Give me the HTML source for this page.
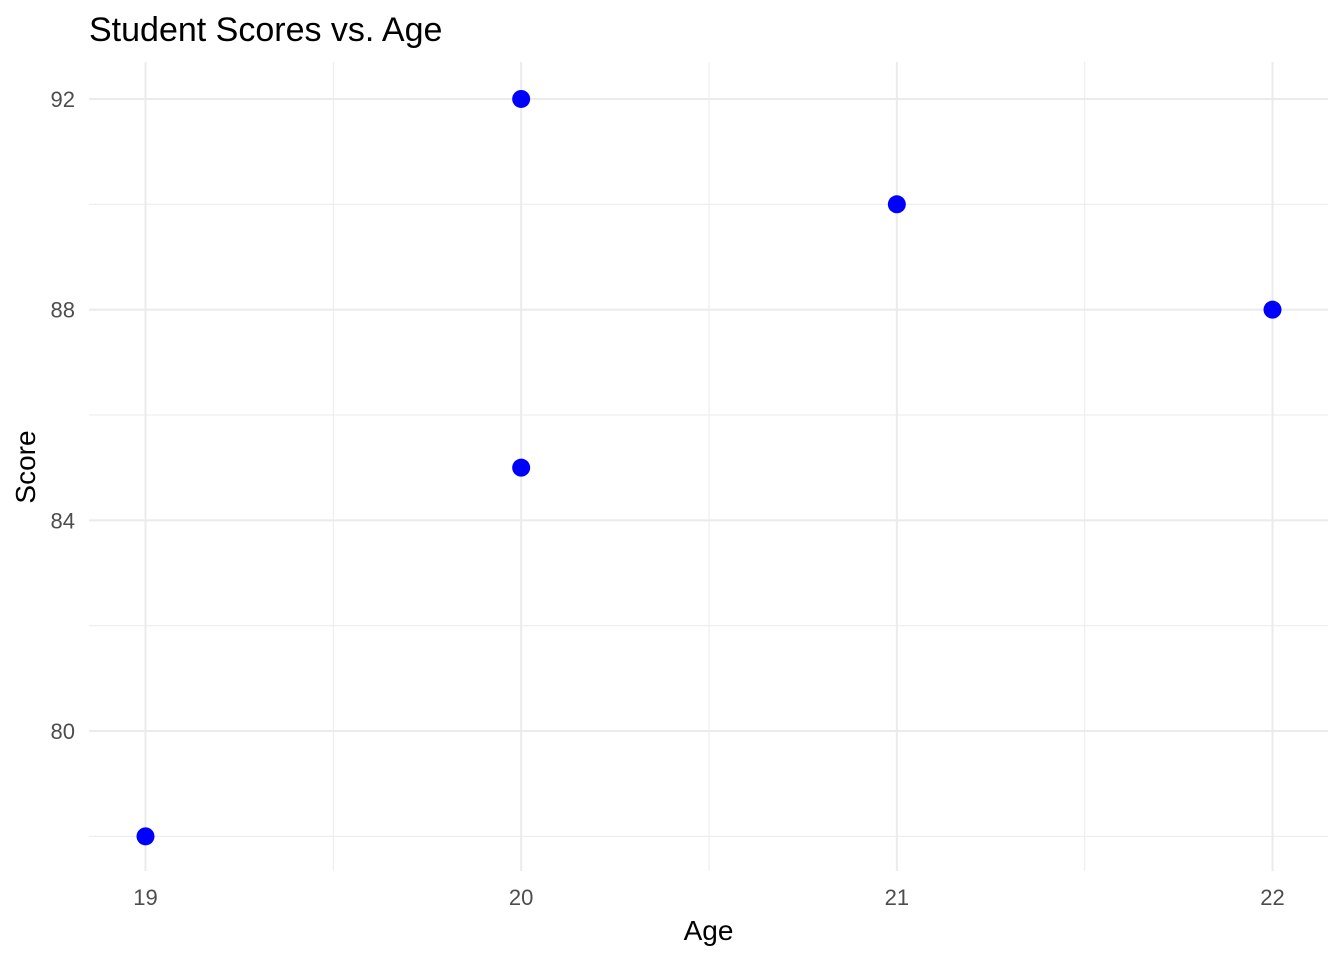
<!DOCTYPE html>
<html><head><meta charset="utf-8"><style>
body{margin:0;background:#fff;}
svg{display:block;font-family:"Liberation Sans",Arial,sans-serif;}
</style></head><body>
<svg id="chart" width="1344" height="960">
<g id="grid"></g><g id="pts"></g><g id="labels"></g>
<text x="89" y="41" font-size="34" fill="#000">Student Scores vs. Age</text>
<text x="708.5" y="940" font-size="28" text-anchor="middle" fill="#000">Age</text>
<text transform="translate(35,467) rotate(-90)" font-size="28" text-anchor="middle" fill="#000">Score</text>
</svg>
<script>
const ages=[19,20,20,21,22];
const scores=[78,92,85,90,88];
const xTicks=[19,20,21,22];
const yTicks=[80,84,88,92];
const xMinor=[19.5,20.5,21.5];
const yMinor=[78,82,86,90];
const L=89,R=1328,T=62,B=871;
const xs=v=>145.5+(v-19)*375.67;
const ys=v=>731-(v-80)*52.67;
const NS="http://www.w3.org/2000/svg";
const grid=document.getElementById('grid'),pts=document.getElementById('pts'),lab=document.getElementById('labels');
function line(x1,y1,x2,y2,w,name){const l=document.createElementNS(NS,'line');
l.setAttribute('x1',x1);l.setAttribute('y1',y1);l.setAttribute('x2',x2);l.setAttribute('y2',y2);
l.setAttribute('stroke','#ebebeb');l.setAttribute('stroke-width',w);


grid.appendChild(l);}
yMinor.forEach(v=>line(L,ys(v),R,ys(v),1,'y-minor-gridline'));
xMinor.forEach(v=>line(xs(v),T,xs(v),B,1,'x-minor-gridline'));
yTicks.forEach(v=>line(L,ys(v),R,ys(v),2,'y-major-gridline'));
xTicks.forEach(v=>line(xs(v),T,xs(v),B,2,'x-major-gridline'));
function txt(x,y,s,anchor,name){const t=document.createElementNS(NS,'text');
t.setAttribute('x',x);t.setAttribute('y',y);t.setAttribute('font-size','22');t.setAttribute('fill','#4d4d4d');
t.setAttribute('text-anchor',anchor);t.textContent=s;


lab.appendChild(t);}
xTicks.forEach(v=>txt(xs(v),905,v,'middle','x-tick-label'));
yTicks.forEach(v=>txt(75,ys(v)+8,v,'end','y-tick-label'));
ages.forEach((a,i)=>{const c=document.createElementNS(NS,'circle');
c.setAttribute('cx',xs(a));c.setAttribute('cy',ys(scores[i]));c.setAttribute('r',9);c.setAttribute('fill','#0000ff');


pts.appendChild(c);});
</script>
</body></html>
